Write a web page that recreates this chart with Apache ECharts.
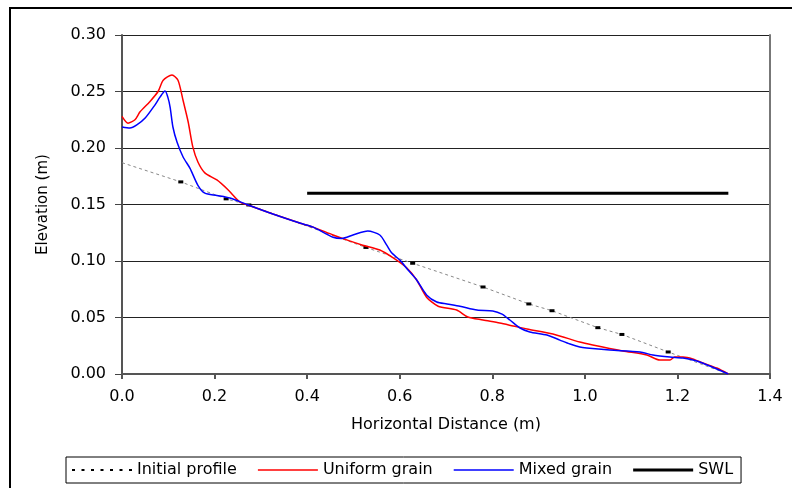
<!DOCTYPE html>
<html>
<head>
<meta charset="utf-8">
<script src="https://cdn.jsdelivr.net/npm/echarts@6/dist/echarts.min.js"></script>
<style>
  body { margin: 0; background: #fff; }
  #myEcharts { width: 792px; height: 488px; }
</style>
</head>
<body>
<div id="myEcharts"></div>
<script>
// values, [distance (m), elevation (m)]
const initialProfile = [
  [0, 0.187], [0.127, 0.170], [0.225, 0.155], [0.274, 0.1496], [0.527, 0.112],
  [0.628, 0.098], [0.78, 0.077], [0.879, 0.062], [0.929, 0.056], [1.028, 0.041],
  [1.08, 0.035], [1.18, 0.0195], [1.31, 0]
]
const uniformGrain = [
  [0, 0.228], [0.013, 0.222], [0.028, 0.225], [0.039, 0.232], [0.060, 0.241],
  [0.078, 0.250], [0.089, 0.260], [0.108, 0.2646], [0.121, 0.260], [0.132, 0.242],
  [0.143, 0.223], [0.153, 0.201], [0.164, 0.1876], [0.179, 0.178], [0.205, 0.1717],
  [0.229, 0.163], [0.255, 0.152], [0.272, 0.1496], [0.326, 0.1416], [0.384, 0.1336],
  [0.413, 0.130], [0.456, 0.123], [0.49, 0.118], [0.520, 0.114], [0.557, 0.1097],
  [0.586, 0.1027], [0.615, 0.094], [0.637, 0.083], [0.658, 0.068], [0.683, 0.060],
  [0.723, 0.0566], [0.747, 0.0505], [0.780, 0.0478], [0.816, 0.0451], [0.845, 0.0425],
  [0.875, 0.0398], [0.931, 0.0354], [0.989, 0.0283], [1.017, 0.0257], [1.082, 0.0204],
  [1.134, 0.0168], [1.162, 0.0124], [1.184, 0.0124], [1.194, 0.015], [1.212, 0.015],
  [1.233, 0.0133], [1.255, 0.0097], [1.285, 0.0053], [1.31, 0]
]
const mixedGrain = [
  [0, 0.2186], [0.017, 0.2177], [0.032, 0.2204], [0.050, 0.2265], [0.071, 0.238],
  [0.082, 0.245], [0.093, 0.2504], [0.099, 0.245], [0.104, 0.236], [0.110, 0.2186],
  [0.119, 0.205], [0.132, 0.192], [0.147, 0.182], [0.164, 0.167], [0.179, 0.160],
  [0.205, 0.158], [0.233, 0.1557], [0.270, 0.150], [0.326, 0.1416], [0.384, 0.1336],
  [0.413, 0.130], [0.456, 0.121], [0.475, 0.120], [0.499, 0.123], [0.531, 0.1265],
  [0.557, 0.123], [0.572, 0.114], [0.583, 0.107], [0.600, 0.101], [0.618, 0.092],
  [0.637, 0.083], [0.658, 0.070], [0.680, 0.0637], [0.702, 0.062], [0.730, 0.060],
  [0.767, 0.0566], [0.801, 0.0558], [0.821, 0.053], [0.838, 0.0478], [0.860, 0.0407],
  [0.881, 0.0372], [0.918, 0.0345], [0.946, 0.030], [0.968, 0.0265], [0.989, 0.0239],
  [1.004, 0.023], [1.054, 0.0212], [1.119, 0.0195], [1.147, 0.0168], [1.184, 0.015],
  [1.212, 0.0142], [1.242, 0.0115], [1.270, 0.0071], [1.31, 0]
]
const swl = [[0.4, 0.16], [1.31, 0.16]]
const legendNames = ['Initial profile', 'Uniform grain', 'Mixed grain', 'SWL']

const font = 'DejaVu Sans'

// dotted legend icon for the initial profile
let dots = ''
for (let i = 0; i < 7; i++) {
  dots += 'M' + (i * 9.5) + ',0h3v2h-3z'
}

const myChart = echarts.init(document.getElementById('myEcharts'), null, { renderer: 'canvas' })
myChart.setOption({
  animation: false,
  backgroundColor: '#fff',
  graphic: [
    {
      type: 'rect',
      shape: { x: 10, y: 8, width: 800, height: 500 },
      style: { fill: 'none', stroke: '#000', lineWidth: 2 },
      silent: true
    }
  ],
  grid: { left: 122, right: 22, top: 35, bottom: 114 },
  legend: {
    left: 66,
    top: 457,
    padding: [5, 8, 5, 6],
    itemGap: 21,
    itemWidth: 60,
    itemHeight: 4,
    borderColor: '#000',
    borderWidth: 1,
    textStyle: { fontFamily: font, fontSize: 16, color: '#000' },
    data: [
      {
        name: legendNames[0],
        icon: 'path://' + dots,
        itemStyle: { color: '#000' },
        lineStyle: { width: 0, type: 'solid', color: '#000' }
      },
      { name: legendNames[1], icon: 'path://M0,0h60v1.3h-60z' },
      { name: legendNames[2], icon: 'path://M0,0h60v1.3h-60z' },
      { name: legendNames[3], icon: 'path://M0,0h60v3h-60z' }
    ]
  },
  xAxis: {
    type: 'value',
    min: 0,
    max: 1.4,
    interval: 0.2,
    name: 'Horizontal Distance (m)',
    nameLocation: 'middle',
    nameGap: 43,
    nameTextStyle: { fontFamily: font, fontSize: 16, color: '#000' },
    axisLine: { show: true, lineStyle: { color: '#555', width: 2 } },
    axisTick: { show: true, length: 5, lineStyle: { color: '#555', width: 2 } },
    axisLabel: {
      margin: 15,
      fontFamily: font,
      fontSize: 16,
      color: '#000',
      formatter: v => v.toFixed(1)
    },
    splitLine: { show: false }
  },
  yAxis: [
    {
      type: 'value',
      min: 0,
      max: 0.3,
      interval: 0.05,
      name: 'Elevation (m)',
      nameLocation: 'middle',
      nameGap: 71,
      nameTextStyle: { fontFamily: font, fontSize: 15, color: '#000' },
      axisLine: { show: true, lineStyle: { color: '#555', width: 2 } },
      axisTick: { show: true, length: 7, lineStyle: { color: '#444' } },
      axisLabel: {
        margin: 16,
        fontFamily: font,
        fontSize: 16,
        color: '#000',
        formatter: v => v.toFixed(2)
      },
      splitLine: { show: true, lineStyle: { color: '#222', width: 1 } }
    },
    {
      type: 'value',
      min: 0,
      max: 0.3,
      position: 'right',
      axisLine: { show: true, lineStyle: { color: '#777', width: 2 } },
      axisTick: { show: false },
      axisLabel: { show: false },
      splitLine: { show: false }
    }
  ],
  series: [
    {
      name: legendNames[0],
      type: 'line',
      data: initialProfile.map((p, i) => ({
        value: p,
        symbol: (i === 0 || i === initialProfile.length - 1) ? 'none' : 'rect'
      })),
      symbolSize: [5, 3],
      itemStyle: { color: '#000' },
      lineStyle: { color: '#888', width: 1, type: [3, 3] },
      z: 2
    },
    {
      name: legendNames[1],
      type: 'line',
      data: uniformGrain,
      showSymbol: false,
      smooth: 0.25,
      itemStyle: { color: '#ff0000' },
      lineStyle: { color: '#ff0000', width: 1.5 },
      z: 3
    },
    {
      name: legendNames[2],
      type: 'line',
      data: mixedGrain,
      showSymbol: false,
      smooth: 0.25,
      itemStyle: { color: '#0000ff' },
      lineStyle: { color: '#0000ff', width: 1.5 },
      z: 4
    },
    {
      name: legendNames[3],
      type: 'line',
      data: swl,
      showSymbol: false,
      itemStyle: { color: '#000' },
      lineStyle: { color: '#000', width: 3 },
      z: 5
    }
  ]
})
</script>
</body>
</html>
